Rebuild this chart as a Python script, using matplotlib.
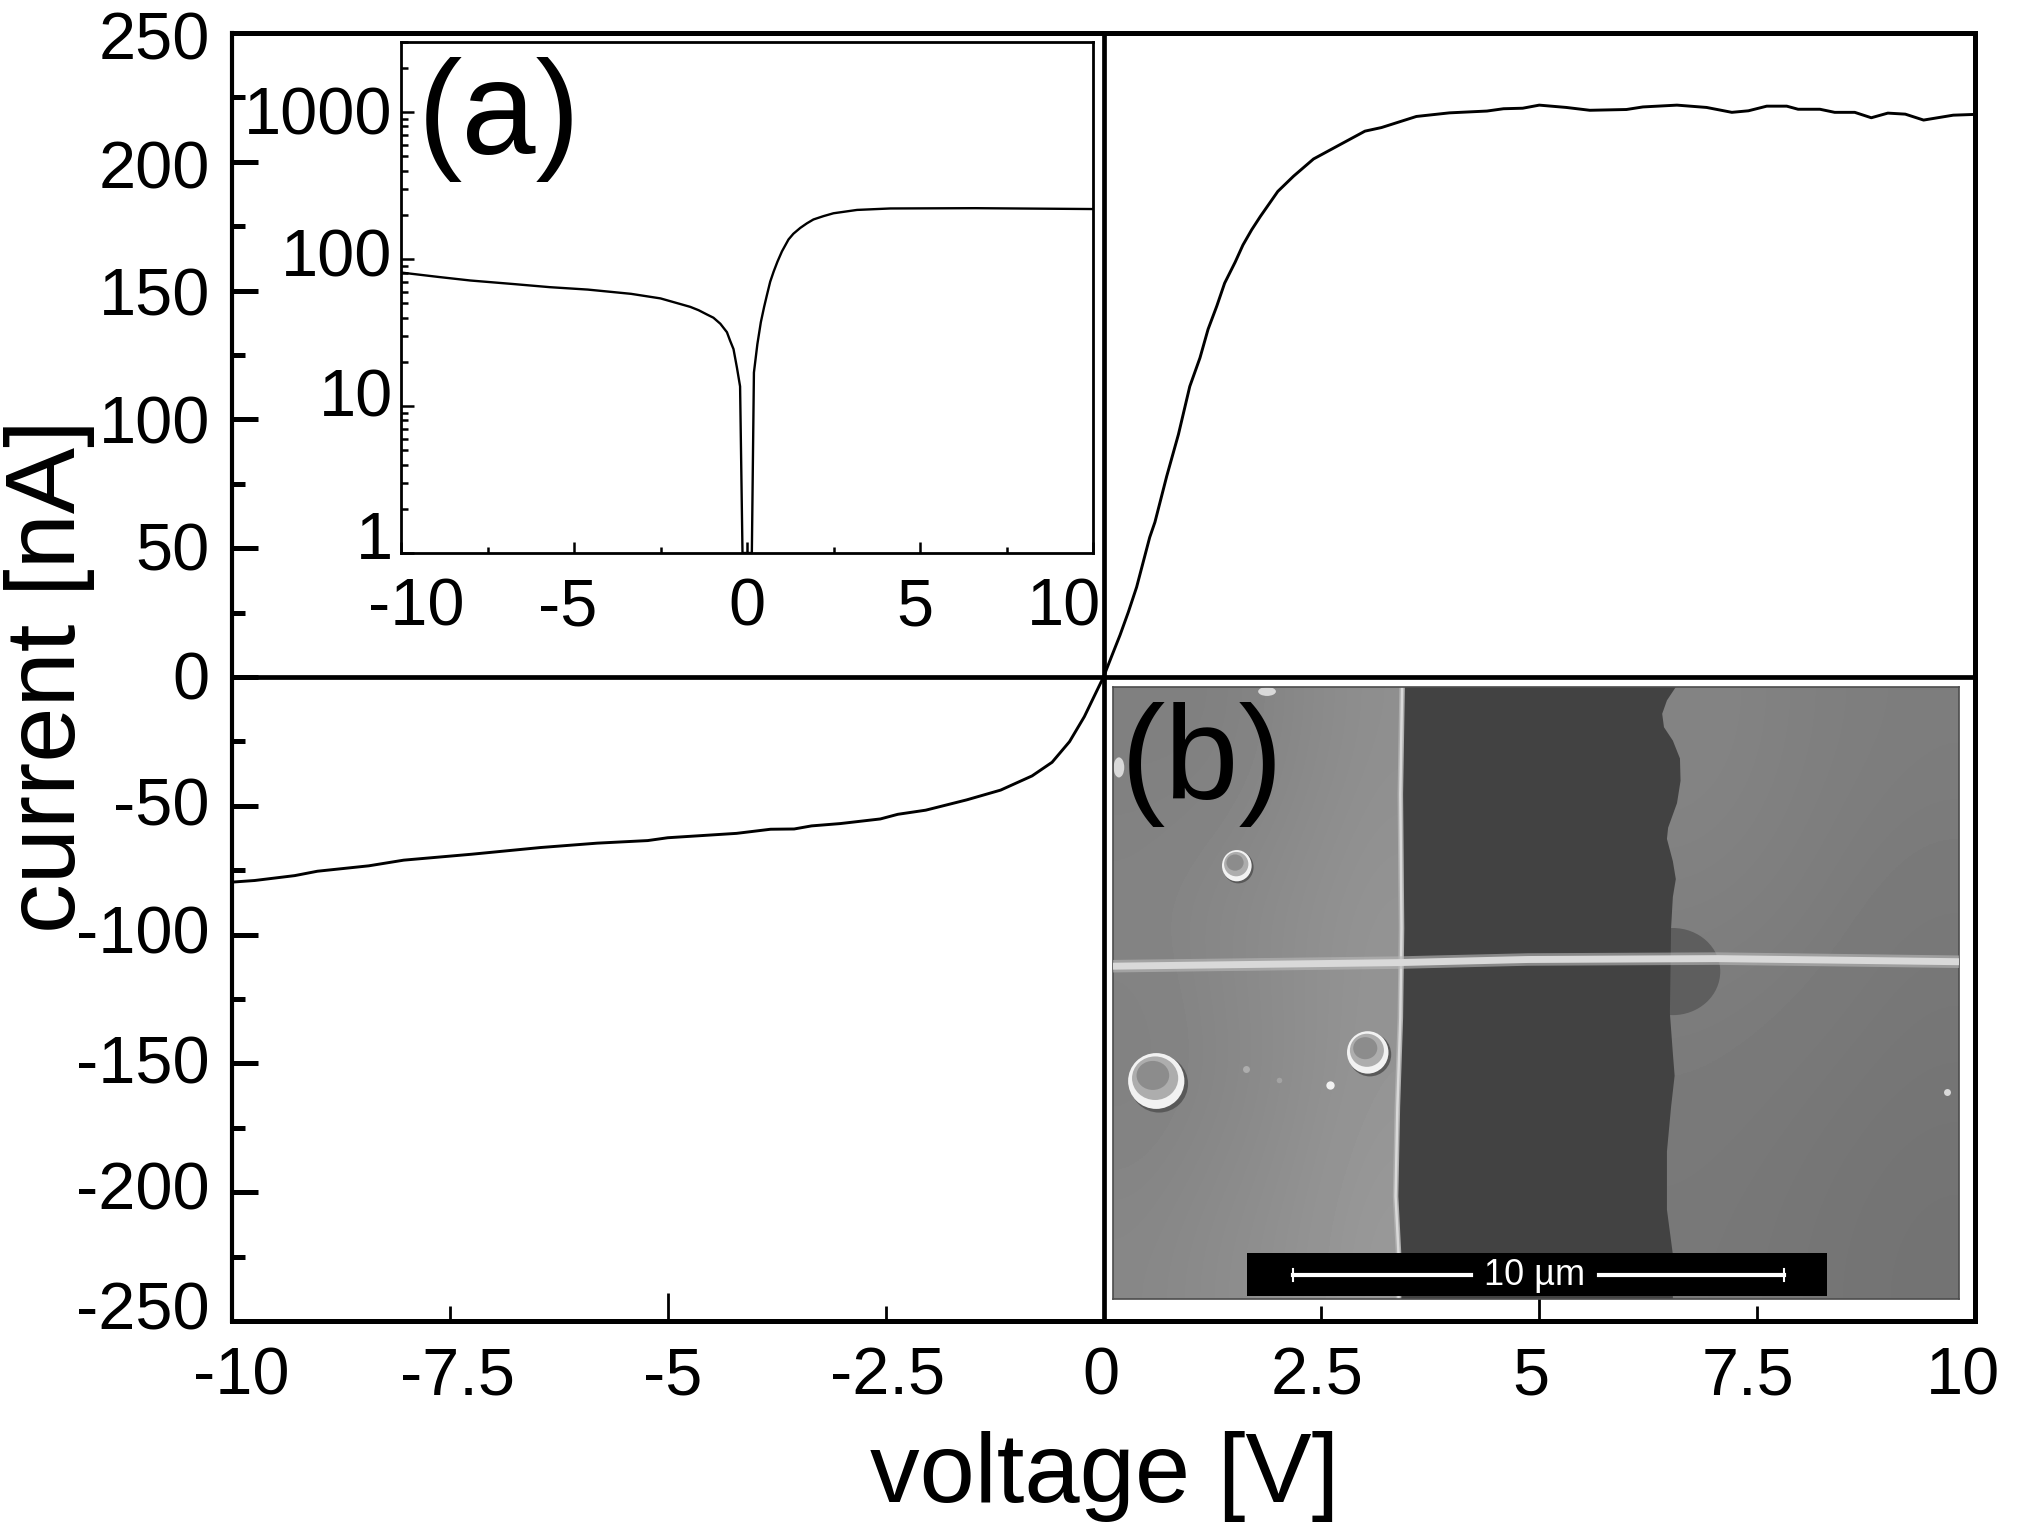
import matplotlib
matplotlib.use("Agg")
import matplotlib.pyplot as plt
from matplotlib.patches import Ellipse, Polygon, Rectangle
from matplotlib.ticker import LogLocator, NullFormatter
from matplotlib.transforms import ScaledTranslation

plt.rcParams["font.family"] = ["Liberation Sans", "DejaVu Sans"]

W, H = 2018, 1522

# main I-V curve
volt = [-9.99, -9.74, -9.28, -9.02, -8.43, -8.03, -7.25, -6.46, -5.81, -5.23, -5.0,
        -4.21, -3.82, -3.55, -3.35, -3.02, -2.56, -2.36, -2.04, -1.57, -1.18, -0.82,
        -0.59, -0.39, -0.22, -0.09, 0.0, 0.094, 0.19, 0.285, 0.38, 0.53, 0.59, 0.725,
        0.86, 0.99, 1.107, 1.2, 1.3, 1.39, 1.51, 1.6, 1.7, 1.8, 2.0, 2.18, 2.41, 2.71,
        3.0, 3.19, 3.59, 3.97, 4.4, 4.59, 4.81, 5.0, 5.31, 5.58, 6.0, 6.19, 6.58, 6.92,
        7.21, 7.4, 7.61, 7.84, 7.97, 8.22, 8.39, 8.62, 8.81, 9.0, 9.2, 9.41, 9.75, 10.0]
curr = [-79.6, -79.0, -77.1, -75.4, -73.3, -71.1, -68.8, -66.2, -64.5, -63.5, -62.4,
        -60.7, -59.1, -59.0, -57.8, -56.9, -55.1, -53.3, -51.7, -47.7, -43.9, -38.4,
        -33.1, -25.1, -15.4, -6.3, 0.0, 8.1, 16.3, 25.2, 34.9, 54.2, 60.1, 77.9,
        94.2, 112.8, 123.9, 135.0, 144.0, 152.9, 161.0, 167.7, 173.6, 178.8, 188.5,
        194.4, 201.1, 206.6, 211.9, 213.3, 217.6, 219.0, 219.7, 220.6, 220.8, 222.0,
        221.1, 220.0, 220.3, 221.3, 222.0, 221.1, 219.2, 219.8, 221.6, 221.6, 220.4,
        220.4, 219.2, 219.2, 217.1, 218.9, 218.5, 216.2, 218.1, 218.4]

# inset (a), absolute current on log scale
volt_log = [-10, -8.9, -8.0, -6.74, -5.7, -4.6, -3.35, -2.5, -1.64, -1.4, -1.16, -0.97,
            -0.77, -0.58, -0.49, -0.39, -0.29, -0.2, -0.13, 0.14, 0.2, 0.3, 0.4, 0.495,
            0.575, 0.67, 0.77, 0.88, 1.01, 1.2, 1.34, 1.54, 1.73, 1.92, 2.21, 2.5, 3.18,
            4.14, 6.6, 10]
curr_log = [81, 75.5, 71.5, 67.6, 64.4, 62, 58, 54, 47.3, 44.9, 42, 39.9,
            36.3, 31.8, 27.9, 24.4, 18.2, 13.6, 1, 1, 16.9, 26.4, 37.2, 47.3,
            56.8, 70.1, 82.2, 96, 112.8, 136, 148.7, 163, 175, 186, 196, 205, 216,
            221, 222, 219]

x_major = [-10, -5, 0, 5, 10]
x_major_labels = ["-10", "-5", "0", "5", "10"]
x_major_shift = [9, 5, -3, -8, -12]
x_minor = [-7.5, -2.5, 2.5, 7.5]
x_minor_labels = ["-7.5", "-2.5", "2.5", "7.5"]
x_minor_shift = [8, 2, -4, -9]
y_major = [-250, -200, -150, -100, -50, 0, 50, 100, 150, 200, 250]
y_major_labels = ["-250", "-200", "-150", "-100", "-50", "0", "50", "100", "150", "200", "250"]
y_major_shift = [16, 6.5, 3.6, 4.7, 4.4, 1.5, 1.5, 0, -1, -2.5, -3]
y_minor = [-225, -175, -125, -75, -25, 25, 75, 125, 175, 225]

inset_x_major = [-10, -5, 0, 5, 10]
inset_x_labels = ["-10", "-5", "0", "5", "10"]
inset_x_shift = [15, -6, 0, -5, -29]
inset_x_minor = [-7.5, -2.5, 2.5, 7.5]
inset_y_major = [1, 10, 100, 1000]
inset_y_labels = ["1", "10", "100", "1000"]
inset_y_shift = [18, 14, 7, 2]

# photo (b), grey levels and outlines in picture coordinates
grey_left = [[0.50, 0.50, 0.53, 0.56],
             [0.52, 0.54, 0.56, 0.58],
             [0.50, 0.52, 0.55, 0.58],
             [0.53, 0.55, 0.57, 0.60]]
grey_right = [[0.52, 0.50, 0.49],
              [0.50, 0.49, 0.47],
              [0.48, 0.47, 0.46],
              [0.47, 0.46, 0.45]]
band_left_x = [528, 525, 527, 525, 520, 517, 522, 522]
band_left_y = [60, 300, 600, 800, 1000, 1200, 1330, 1430]
band_right_x = [990, 975, 967, 970, 985, 997, 998, 992, 977, 975, 985, 990, 985, 982,
                980, 985, 988, 982, 975, 975, 985, 985]
band_right_y = [60, 90, 120, 150, 180, 220, 270, 320, 375, 400, 450, 490, 530, 600,
                790, 880, 930, 1000, 1100, 1230, 1330, 1430]
wire_x = [40, 520, 740, 1060, 1468]
wire_y = [685, 677, 670, 668, 675]
bubble_x = [113, 470, 249]
bubble_y = [942, 878, 460]
bubble_w = [95, 70, 50]
bubble_h = [125, 95, 70]
blob_x = [300, 50]
blob_y = [70, 240]
blob_w = [30, 18]
blob_h = [20, 45]
speck_x = [407, 265, 320, 1447]
speck_y = [950, 915, 940, 967]
speck_size = [6, 5, 4, 5]
speck_grey = [0.95, 0.68, 0.64, 0.85]


def box(left, top, right, bottom):
    return [left / W, 1 - bottom / H, (right - left) / W, (bottom - top) / H]


def shift_labels(labels, dx=None, dy=None):
    for i, lab in enumerate(labels):
        ox = dx[i] if dx else 0
        oy = dy[i] if dy else 0
        lab.set_transform(lab.get_transform() + ScaledTranslation(ox / 100, oy / 100, fig.dpi_scale_trans))


fig = plt.figure(figsize=(W / 100, H / 100), dpi=100)

ax = fig.add_axes(box(232, 33, 1975, 1321))
ax.plot(volt, curr, color="black", lw=2.1, zorder=3)
ax.axhline(0, color="black", lw=3.4, zorder=2)
ax.axvline(0, color="black", lw=3.4, zorder=2)
ax.set_xlim(-10, 10)
ax.set_ylim(-250, 250)
ax.spines["left"].set_linewidth(3.0)
ax.spines["right"].set_linewidth(3.6)
ax.spines["top"].set_linewidth(3.6)
ax.spines["bottom"].set_linewidth(3.6)

ax.set_xticks(x_major, labels=x_major_labels)
ax.set_xticks(x_minor, labels=x_minor_labels, minor=True)
ax.set_yticks(y_major, labels=y_major_labels)
ax.set_yticks(y_minor, minor=True)
ax.tick_params(axis="x", which="major", direction="in", length=20, width=2, labelsize=48, pad=18.5)
ax.tick_params(axis="x", which="minor", direction="in", length=11, width=2, labelsize=48, pad=18.5)
ax.tick_params(axis="y", which="major", direction="in", length=19, width=3.6, labelsize=48, pad=16)
ax.tick_params(axis="y", which="minor", direction="in", length=9, width=3.6)
shift_labels(ax.get_xticklabels(), dx=x_major_shift)
shift_labels(ax.get_xticklabels(minor=True), dx=x_minor_shift)
shift_labels(ax.get_yticklabels(), dy=y_major_shift)

ax.set_xlabel("voltage [V]", fontsize=71.5, va="baseline")
ax.xaxis.set_label_coords(1105 / W, 1 - 1502 / H, transform=fig.transFigure)
ax.set_ylabel("current [nA]", fontsize=71.5, va="baseline")
ax.yaxis.set_label_coords(75 / W, 1 - 676 / H, transform=fig.transFigure)

# inset (a)
ins = fig.add_axes(box(401, 42, 1093, 553))
ins.semilogy(volt_log, curr_log, color="black", lw=1.7)
ins.set_xlim(-10, 10)
ins.set_ylim(1, 3000)
for s in ins.spines.values():
    s.set_linewidth(2.0)
ins.set_xticks(inset_x_major, labels=inset_x_labels)
ins.set_xticks(inset_x_minor, minor=True)
ins.set_yticks(inset_y_major, labels=inset_y_labels)
ins.yaxis.set_minor_locator(LogLocator(base=10, subs=range(2, 10), numticks=12))
ins.yaxis.set_minor_formatter(NullFormatter())
ins.tick_params(axis="x", which="major", direction="in", length=8, width=1.8, labelsize=48, pad=18)
ins.tick_params(axis="x", which="minor", direction="in", length=4, width=1.8)
ins.tick_params(axis="y", which="major", direction="in", length=9, width=1.8, labelsize=48, pad=6)
ins.tick_params(axis="y", which="minor", direction="in", length=5, width=1.8)
shift_labels(ins.get_xticklabels(), dx=inset_x_shift)
shift_labels(ins.get_yticklabels(), dy=inset_y_shift)

# photo (b)
pic = fig.add_axes(box(1113, 687, 1959, 1299))
pic.set_xticks([])
pic.set_yticks([])
for s in pic.spines.values():
    s.set_linewidth(1.2)
    s.set_color("0.3")
pic.imshow(grey_left, cmap="gray", vmin=0, vmax=1, extent=(40, 530, 1430, 60),
           aspect="auto", interpolation="bicubic", zorder=0)
pic.imshow(grey_right, cmap="gray", vmin=0, vmax=1, extent=(960, 1468, 1430, 60),
           aspect="auto", interpolation="bicubic", zorder=0)
pic.add_patch(Ellipse((985, 697), 160, 195, color="0.37", lw=0, zorder=1))
band = list(zip(band_left_x, band_left_y)) + list(zip(band_right_x, band_right_y))[::-1]
pic.add_patch(Polygon(band, closed=True, color="0.26", lw=0, zorder=1))
pic.plot(band_left_x, band_left_y, color="0.68", lw=4, zorder=2)
pic.plot(band_left_x, band_left_y, color="0.85", lw=1.8, zorder=2)
pic.plot(wire_x, wire_y, color="0.72", lw=9, alpha=0.6, solid_capstyle="butt", zorder=3)
pic.plot(wire_x, wire_y, color="0.85", lw=5, solid_capstyle="butt", zorder=3)
for x, y, w, h in zip(bubble_x, bubble_y, bubble_w, bubble_h):
    pic.add_patch(Ellipse((x + 0.05 * w, y + 0.05 * h), w * 1.03, h * 1.03, color="0.35", lw=0, zorder=2))
    pic.add_patch(Ellipse((x, y), w, h, color="0.95", lw=0, zorder=2))
    pic.add_patch(Ellipse((x - 0.02 * w, y - 0.05 * h), w * 0.82, h * 0.78, color="0.68", lw=0, zorder=2))
    pic.add_patch(Ellipse((x - 0.06 * w, y - 0.1 * h), w * 0.58, h * 0.52, color="0.55", lw=0, zorder=2))
for x, y, w, h in zip(blob_x, blob_y, blob_w, blob_h):
    pic.add_patch(Ellipse((x, y), w, h, color="0.85", lw=0, zorder=2))
for x, y, s, c in zip(speck_x, speck_y, speck_size, speck_grey):
    pic.plot(x, y, "o", color=str(c), ms=s, mew=0, zorder=2)
pic.add_patch(Rectangle((266, 1327), 979, 96, color="black", lw=0, zorder=4))
pic.plot([343, 645], [1376, 1376], color="white", lw=3, zorder=5)
pic.plot([860, 1172], [1376, 1376], color="white", lw=3, zorder=5)
pic.plot([343, 343], [1362, 1390], color="white", lw=1.5, zorder=5)
pic.plot([1172, 1172], [1362, 1390], color="white", lw=1.5, zorder=5)
pic.text(752, 1378, "10 µm", color="white", fontsize=26, ha="center", va="center", zorder=5)
pic.set_xlim(40, 1468)
pic.set_ylim(1430, 60)

fig.text(418 / W, 1 - 154 / H, "(a)", fontsize=96, color="black", va="baseline")
fig.text(1121 / W, 1 - 799 / H, "(b)", fontsize=96, color="black", va="baseline")

plt.savefig("out.png", dpi=100)
print("saved")
